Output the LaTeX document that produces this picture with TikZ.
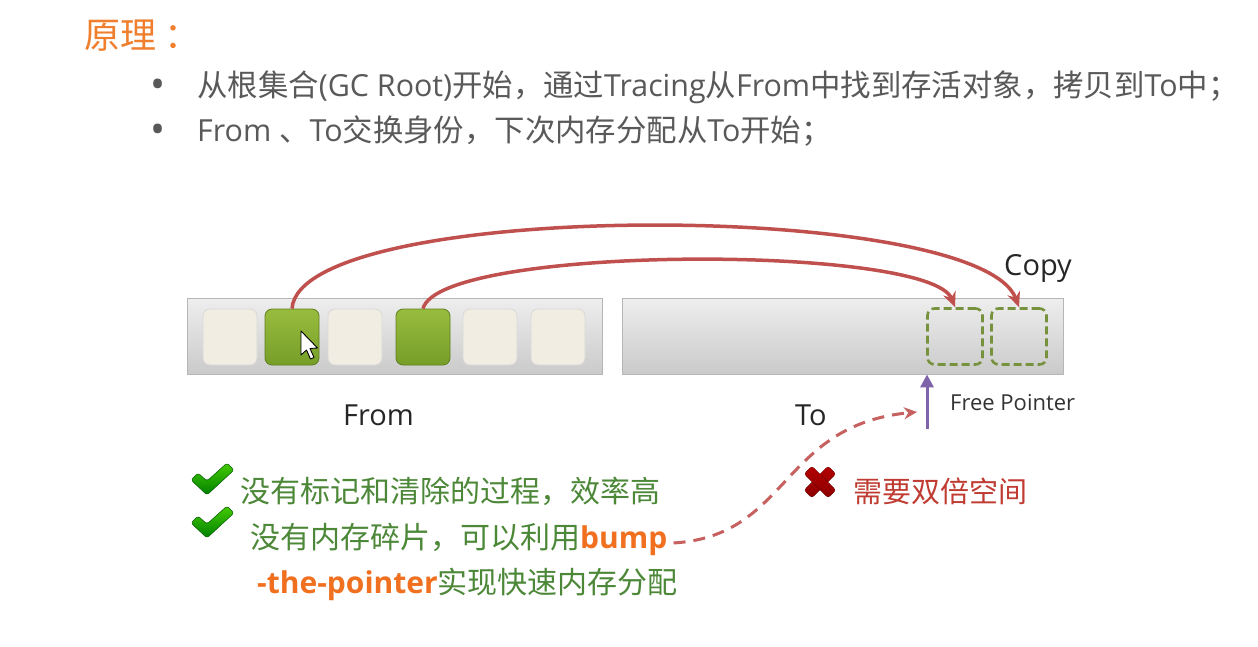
\documentclass[tikz,border=0pt]{standalone}
\usepackage{fontspec}
\setmainfont{Noto Sans CJK SC}
\newfontfamily\lat{Open Sans}
\usetikzlibrary{arrows.meta}
\definecolor{ttlorange}{RGB}{240,127,45}
\definecolor{bodygray}{RGB}{89,89,89}
\definecolor{txtgreen}{RGB}{76,136,56}
\definecolor{bumporange}{RGB}{240,112,32}
\definecolor{txtred}{RGB}{192,60,50}
\definecolor{arcred}{RGB}{192,80,77}
\definecolor{ptrpurple}{RGB}{128,100,170}
\definecolor{boxgreenA}{RGB}{152,188,62}
\definecolor{boxgreenB}{RGB}{118,158,40}
\definecolor{cream}{RGB}{241,237,227}
\definecolor{dashgreen}{RGB}{118,146,60}
\definecolor{barA}{RGB}{238,238,238}
\definecolor{barB}{RGB}{202,202,202}
\begin{document}
\begin{tikzpicture}[x=1pt,y=-1pt,
  txt/.style={inner sep=0pt,anchor=base west},
  membar/.style={draw=barB!90!black,line width=0.8pt,top color=barA,bottom color=barB,minimum height=76pt,inner sep=0pt},
  cell/.style={rounded corners=7pt,minimum width=54pt,minimum height=56pt,inner sep=0pt,draw=black!15,line width=0.8pt},
  emptycell/.style={cell,fill=cream},
  livecell/.style={cell,draw=boxgreenB!80!black,top color=boxgreenA,bottom color=boxgreenB},
  copycell/.style={rounded corners=7pt,minimum width=55pt,minimum height=56pt,inner sep=0pt,draw=dashgreen,line width=2.6pt,dash pattern=on 8pt off 4pt},
  copyarc/.style={draw=arcred,line width=3.5pt,-{Stealth[length=15pt,width=13pt]}},
  lbl/.style={txt,font=\lat\fontsize{29}{32}\selectfont,text=black!85},
  bullet/.style={inner sep=0pt,anchor=center,text=bodygray,font=\lat\fontsize{40}{44}\selectfont},
]
\useasboundingbox (0,0) rectangle (1258,647);
\fill[white] (0,0) rectangle (1258,647);

% title and bullets
\node[txt,text=ttlorange,font=\fontsize{36}{40}\selectfont] (title) at (84,49) {原理\hspace{8pt}：};
\node[bullet] (b1) at (158,89) {•};
\node[bullet] (b2) at (158,134) {•};
\node[txt,text=bodygray,font=\fontsize{30.4}{34}\selectfont] (l1) at (197,97) {从根集合{\lat(GC Root)}开始，通过{\lat Tracing}从{\lat From}中找到存活对象，拷贝到{\lat To}中；};
\node[txt,text=bodygray,font=\fontsize{30.4}{34}\selectfont] (l2) at (197,142) {{\lat From }、{\lat To}交换身份，下次内存分配从{\lat To}开始；};

% memory bars
\node[membar,minimum width=415pt] (from) at (394.5,336) {};
\node[membar,minimum width=441pt] (to) at (842.5,336) {};
\node[emptycell] (f1) at (230,337) {};
\node[livecell]  (f2) at (292,337) {};
\node[emptycell] (f3) at (355,337) {};
\node[livecell]  (f4) at (423,337) {};
\node[emptycell] (f5) at (490,337) {};
\node[emptycell] (f6) at (558,337) {};
\node[copycell] (t1) at (955,336.5) {};
\node[copycell] (t2) at (1019,336.5) {};

% mouse cursor
\draw[fill=white,line width=0.9pt,line join=round] (301,331) -- ++(0,24) -- ++(5.5,-5) -- ++(4,9) -- ++(3.5,-1.5) -- ++(-4,-9) -- ++(7.5,-0.5) -- cycle;

% copy arcs
\draw[copyarc] (f2.north) .. controls +(8,-110) and +(-40,-108) .. (t2.north);
\draw[copyarc] (f4.north) .. controls +(17,-64) and +(-25,-63) .. (t1.north);

% labels
\node[lbl] (copy) at (1004,275) {Copy};
\node[lbl] (fromlbl) at (343,425) {From};
\node[lbl] (tolbl) at (795,425) {To};
\node[txt,font=\lat\fontsize{22}{25}\selectfont,text=black!80] (fplbl) at (950,410) {Free Pointer};

% free pointer arrow
\coordinate (fp0) at (927,429);
\draw[draw=ptrpurple,line width=3pt,-{Triangle[length=13pt,width=13pt]}] (fp0) -- (fp0 |- to.south);

% check marks
\foreach \cy/\nm in {480/ck1,523/ck2}{
  \path[top color=green!55!lime!80!black,bottom color=green!50!black,draw=green!35!black,line width=0.5pt,line join=round,rounded corners=2.5pt]
    (191,\cy) -- (198,\cy-7) -- (207,\cy+1) -- (227,\cy-17) -- (234,\cy-10) -- (207,\cy+15) -- cycle;
}
\node[txt,text=txtgreen,font=\fontsize{30}{34}\selectfont] (g1) at (240,502) {没有标记和清除的过程，效率高};
\node[txt,text=txtgreen,font=\fontsize{30}{34}\selectfont] (g2) at (250,548) {没有内存碎片，可以利用{\lat\bfseries\color{bumporange}bump}};
\node[txt,text=txtgreen,font=\fontsize{30}{34}\selectfont] (g3) at (257,593) {{\lat\bfseries\color{bumporange}-the-pointer}实现快速内存分配};

% red cross
\begin{scope}[shift={(820,482)}]
  \fill[rotate=45,top color=red!70!black,bottom color=red!55!black,rounded corners=2.5pt] (-17,-5.5) rectangle (17,5.5);
  \fill[rotate=-45,top color=red!70!black,bottom color=red!55!black,rounded corners=2.5pt] (-17,-5.5) rectangle (17,5.5);
\end{scope}
\node[txt,text=txtred,font=\fontsize{29}{34}\selectfont] (r1) at (853,502) {需要双倍空间};

% dashed pointer-bump arrow
\coordinate (dstart) at (g2.east);
\coordinate (dend) at (917,412);
\draw[draw=arcred!90!white,line width=3pt,dash pattern=on 12pt off 8pt,-{Stealth[length=13pt,width=12pt]}]
  ([xshift=6pt,yshift=-4pt]dstart) .. controls (790,536) and (780,425) .. (dend);
\end{tikzpicture}
\end{document}
